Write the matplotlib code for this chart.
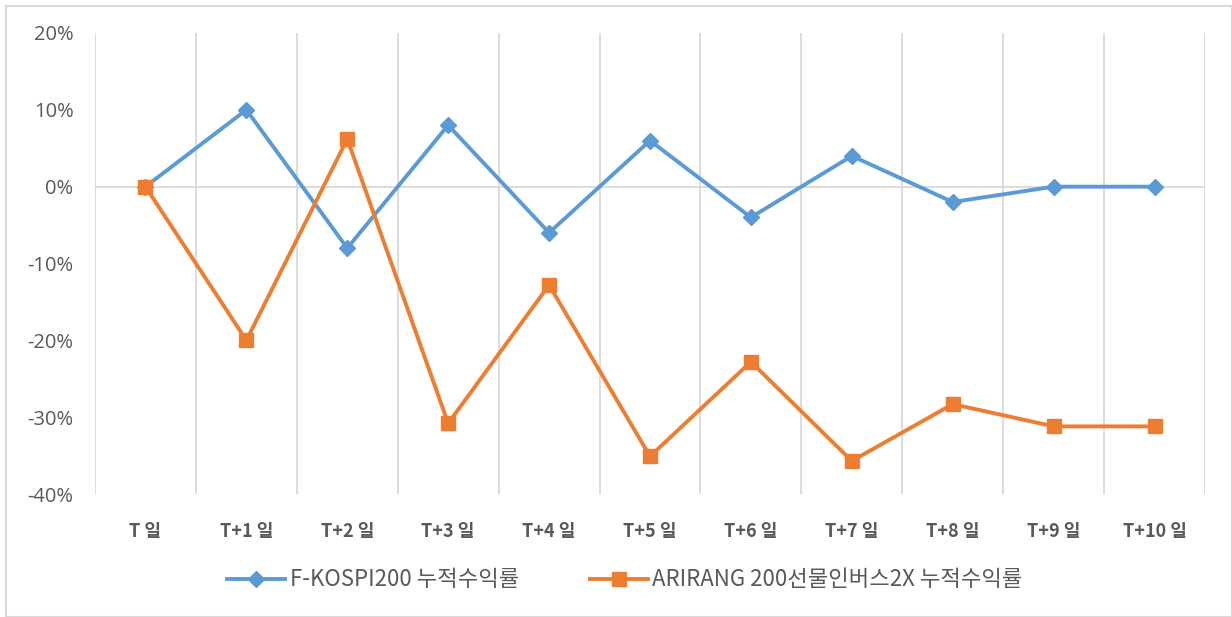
import matplotlib
matplotlib.use('Agg')
import matplotlib.pyplot as plt
from matplotlib.patches import Rectangle
import numpy as np

plt.rcParams['font.family'] = ['Noto Sans CJK KR', 'DejaVu Sans']

days = ['T 일', 'T+1 일', 'T+2 일', 'T+3 일', 'T+4 일', 'T+5 일',
        'T+6 일', 'T+7 일', 'T+8 일', 'T+9 일', 'T+10 일']
kospi = [0, 10, -8, 8, -6, 6, -4, 4, -2, 0, 0]
arirang = [0, -20, 6.2, -30.8, -12.8, -35.1, -22.8, -35.7, -28.3, -31.2, -31.2]
kospi_name = 'F-KOSPI200 누적수익률'
arirang_name = 'ARIRANG 200선물인버스2X 누적수익률'

blue = '#5B9BD5'
orange = '#ED7D31'
gray_text = '#595959'
grid_c = '#D9D9D9'

fig = plt.figure(figsize=(12.32, 6.17), dpi=100)
ax = fig.add_axes([95/1232, 1 - 494/617, 1110/1232, 461/617])

x = np.arange(len(days))
ax.plot(x, kospi, color=blue, lw=2.8, marker='D', ms=8.5, label=kospi_name, zorder=3)
ax.plot(x, arirang, color=orange, lw=2.8, marker='s', ms=10.5, label=arirang_name, zorder=3)

ax.set_xlim(-0.5, len(days) - 0.5)
ax.set_ylim(-40, 20)
ax.set_yticks(np.arange(-40, 21, 10))
ax.set_yticklabels([f'{v}%' for v in range(-40, 21, 10)], fontsize=14.5, color=gray_text,
                   family=['Open Sans', 'DejaVu Sans'])
ax.set_xticks(x)
ax.set_xticklabels(days, fontsize=13, fontweight='bold', color=gray_text)
ax.tick_params(axis='both', length=0)
ax.tick_params(axis='x', pad=20)
ax.tick_params(axis='y', pad=15.5)

for b in np.arange(-0.5, len(days), 1):
    ax.axvline(b, color=grid_c, lw=1.3, zorder=1)
ax.axhline(0, color=grid_c, lw=1.3, zorder=1)
for s in ax.spines.values():
    s.set_visible(False)

leg = fig.legend(loc='center', bbox_to_anchor=(625/1232, 1 - 580/617), ncol=2, frameon=False,
                 fontsize=16, columnspacing=3.2, handlelength=2.6, handletextpad=0.2)
for t in leg.get_texts():
    t.set_color(gray_text)

fig.patches.append(Rectangle((6/1232, 0), 1 - 6/1232, 1 - 6/617, transform=fig.transFigure,
                             fill=False, edgecolor=grid_c, lw=1.5))

fig.savefig('out.png', dpi=100)
